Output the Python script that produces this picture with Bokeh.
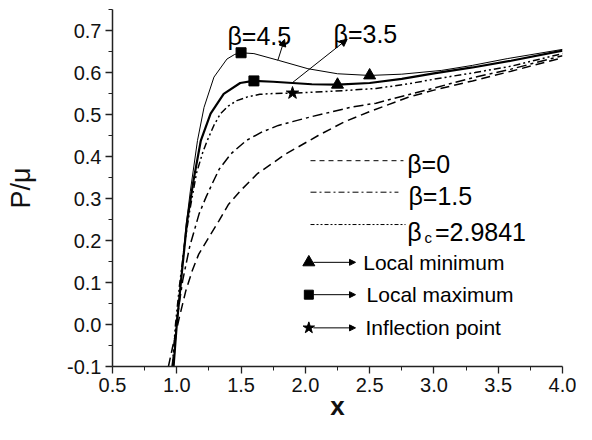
from bokeh.plotting import figure
from bokeh.models import Label, Arrow, NormalHead, FixedTicker, PrintfTickFormatter, Range1d
from bokeh.embed import file_html
from bokeh.resources import INLINE

# ---------------- data ----------------
beta0_x = [0.935, 0.97, 1.0, 1.02, 1.07, 1.12, 1.17, 1.25, 1.33, 1.4, 1.5, 1.63, 1.75, 1.84, 1.94,
           2.1, 2.3, 2.5, 2.8, 3.0, 3.3, 3.6, 4.0]
beta0_y = [-0.1, -0.05, -0.01, 0.017, 0.08, 0.128, 0.167, 0.208, 0.248, 0.285, 0.32, 0.36, 0.385,
           0.405, 0.422, 0.45, 0.482, 0.507, 0.541, 0.558, 0.58, 0.603, 0.635]

beta15_x = [0.965, 1.0, 1.046, 1.1, 1.174, 1.23, 1.28, 1.33, 1.42, 1.54, 1.66, 1.79, 1.9, 2.05,
            2.35, 2.55, 2.8, 3.0, 3.32, 3.6, 4.0]
beta15_y = [-0.1, 0.01, 0.105, 0.185, 0.264, 0.305, 0.338, 0.37, 0.406, 0.438, 0.458, 0.474,
            0.483, 0.495, 0.517, 0.527, 0.547, 0.563, 0.589, 0.608, 0.64]

betac_x = [0.965, 0.99, 1.02, 1.06, 1.1, 1.153, 1.2, 1.237, 1.29, 1.34, 1.4, 1.467, 1.55, 1.646,
           1.75, 1.9, 2.05, 2.3, 2.55, 2.8, 3.0, 3.32, 3.6, 4.0]
betac_y = [-0.1, 0.0, 0.09, 0.19, 0.27, 0.36, 0.408, 0.438, 0.475, 0.502, 0.52, 0.533, 0.542,
           0.548, 0.55, 0.551, 0.553, 0.557, 0.562, 0.573, 0.584, 0.6, 0.615, 0.645]

beta35_x = [0.975, 1.0, 1.04, 1.08, 1.13, 1.187, 1.263, 1.365, 1.493, 1.595, 1.75, 1.9, 2.05,
            2.25, 2.5, 2.75, 3.0, 3.3, 3.6, 4.0]
beta35_y = [-0.1, 0.0, 0.125, 0.245, 0.343, 0.438, 0.502, 0.549, 0.575, 0.58, 0.578, 0.575,
            0.572, 0.571, 0.575, 0.585, 0.598, 0.612, 0.628, 0.652]

beta45_x = [0.975, 1.0, 1.04, 1.07, 1.105, 1.161, 1.212, 1.289, 1.39, 1.45, 1.498, 1.6, 1.79,
            2.02, 2.25, 2.5, 2.75, 3.06, 3.3, 3.57, 4.0]
beta45_y = [-0.1, 0.0, 0.13, 0.23, 0.317, 0.438, 0.517, 0.589, 0.632, 0.643, 0.647, 0.645,
            0.629, 0.609, 0.597, 0.593, 0.596, 0.605, 0.617, 0.633, 0.655]

max_x = [1.5, 1.6]
max_y = [0.647, 0.58]
min_x = [2.5, 2.25]
min_y = [0.593, 0.571]
infl_x = [1.9]
infl_y = [0.551]

x_ticks = [0.5, 1.0, 1.5, 2.0, 2.5, 3.0, 3.5, 4.0]
x_minor = [0.75, 1.25, 1.75, 2.25, 2.75, 3.25, 3.75]
y_ticks = [-0.1, 0.0, 0.1, 0.2, 0.3, 0.4, 0.5, 0.6, 0.7]
y_minor = [-0.05, 0.05, 0.15, 0.25, 0.35, 0.45, 0.55, 0.65, 0.75]

FONT = "Liberation Sans"
INK = "#000000"
AX = "#222222"

p = figure(width=576, height=424, output_backend="svg", toolbar_location=None,
           x_range=Range1d(0.5, 4.0), y_range=Range1d(-0.1, 0.75),
           min_border_left=112, min_border_right=14, min_border_top=9,
           min_border_bottom=58, title=None)
p.outline_line_color = None
p.grid.visible = False
p.background_fill_color = "white"
p.border_fill_color = "white"

for ax in (p.xaxis[0], p.yaxis[0]):
    ax.axis_line_width = 1.5
    ax.axis_line_color = AX
    ax.major_tick_line_color = AX
    ax.minor_tick_line_color = AX
    ax.major_tick_line_width = 1.3
    ax.minor_tick_line_width = 1.0
    ax.major_tick_in = 0
    ax.major_tick_out = 7
    ax.minor_tick_in = 0
    ax.minor_tick_out = 4
    ax.major_label_text_font = FONT
    ax.major_label_text_font_size = "20px"
    ax.major_label_text_color = "#111111"
    ax.axis_label_text_font = FONT
    ax.axis_label_text_color = "#111111"
    ax.formatter = PrintfTickFormatter(format="%.1f")

p.xaxis.ticker = FixedTicker(ticks=x_ticks, minor_ticks=x_minor)
p.yaxis.ticker = FixedTicker(ticks=y_ticks, minor_ticks=y_minor)
p.xaxis.major_label_standoff = 4
p.yaxis.major_label_standoff = 4
p.xaxis.axis_label = "x"
p.xaxis.axis_label_text_font_style = "bold"
p.xaxis.axis_label_text_font_size = "26px"
p.xaxis.axis_label_standoff = -4
p.yaxis.axis_label = "P/\u03bc"
p.yaxis.axis_label_text_font_style = "normal"
p.yaxis.axis_label_text_font_size = "27px"
p.yaxis.axis_label_standoff = 28

# curves
p.line(beta0_x, beta0_y, line_color=INK, line_width=1.5, line_dash="9 5")
p.line(beta15_x, beta15_y, line_color=INK, line_width=1.5, line_dash="10 4 3 4")
p.line(betac_x, betac_y, line_color=INK, line_width=1.5, line_dash="7 3 2 3 2 3")
p.line(beta35_x, beta35_y, line_color=INK, line_width=2.2)
p.line(beta45_x, beta45_y, line_color=INK, line_width=1.0)

# markers on curves
p.scatter(max_x, max_y, marker="square", size=10, color=INK)
p.scatter(min_x, min_y, marker="triangle", size=12, color=INK)
p.scatter(infl_x, infl_y, marker="star", size=13, color=INK)


def label(x, y, text, size, baseline="alphabetic", style="normal", align="left"):
    p.add_layout(Label(x=x, y=y, text=text, text_font=FONT, text_font_size=size,
                       text_baseline=baseline, text_align=align, text_color=INK,
                       text_font_style=style))


def arrow(x0, y0, x1, y1, size=7):
    p.add_layout(Arrow(end=NormalHead(size=size, fill_color=INK, line_color=INK),
                       x_start=x0, y_start=y0, x_end=x1, y_end=y1,
                       line_color=INK, line_width=1))


# curve annotations
label(1.394, 0.688, "\u03b2=4.5", "25px")
arrow(1.786, 0.629, 1.838, 0.679)
label(2.219, 0.692, "\u03b2=3.5", "25px")
arrow(1.90, 0.576, 2.325, 0.679)

# line legend
LX0 = 2.04
p.line([LX0, 2.763], [0.39, 0.39], line_color=INK, line_width=1, line_dash="5 4")
label(2.792, 0.381, "\u03b2=0", "25px")
p.line([LX0, 2.724], [0.315, 0.315], line_color=INK, line_width=1, line_dash="6 3 2 3")
label(2.802, 0.305, "\u03b2=1.5", "25px")
p.line([LX0, 2.779], [0.238, 0.238], line_color=INK, line_width=1, line_dash="4 2 2 2 2 2")
label(2.792, 0.220, "\u03b2", "25px")
label(2.927, 0.206, "c", "15px")
label(3.008, 0.220, "=2.9841", "25px")

# marker legend
MX = 2.027
legend_rows = [(0.148, "triangle", 12, "Local minimum", 2.45),
               (0.071, "square", 9, "Local maximum", 2.476),
               (-0.008, "star", 12, "Inflection point", 2.468)]
for yy, mk, sz, txt, tx in legend_rows:
    p.scatter([MX], [yy], marker=mk, size=sz, color=INK)
    arrow(MX + 0.035, yy, 2.39, yy, size=6)
    label(tx, yy, txt, "21px", baseline="middle")

open("out.html", "w").write(file_html(p, INLINE))
